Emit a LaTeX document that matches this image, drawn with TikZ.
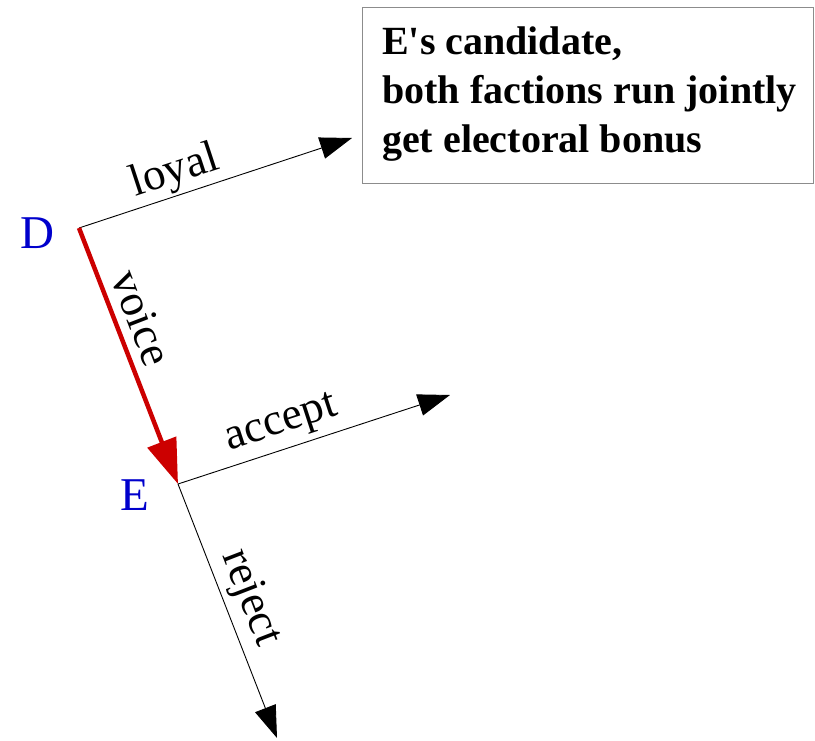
\documentclass[tikz,border=0pt]{standalone}
\usepackage{fontspec}
\setmainfont{Liberation Serif}
\usetikzlibrary{arrows.meta}
\definecolor{redarrow}{HTML}{CC0000}
\definecolor{bluelbl}{HTML}{0000CC}
\definecolor{boxgray}{HTML}{8C8C8C}
\begin{document}
\begin{tikzpicture}[x=1pt,y=-1pt,
  move/.style={draw=black, line width=0.9pt, -{Triangle[length=32pt,width=22pt]}},
  redmove/.style={draw=redarrow, line width=4.5pt, -{Triangle[length=45pt,width=30pt]}},
  edgelbl/.style={font=\fontsize{45}{50}\selectfont, inner sep=0pt},
  playerlbl/.style={font=\fontsize{47}{50}\selectfont, text=bluelbl, inner sep=0pt, anchor=base},
  infobox/.style={draw=boxgray, line width=1pt, anchor=north west, minimum width=451pt, minimum height=176pt, inner sep=0pt},
  boxtext/.style={font=\fontsize{40}{49}\selectfont\bfseries, align=left, inner sep=0pt, anchor=base west}]
\useasboundingbox (0,0) rectangle (815,741);
\coordinate (D) at (79,228);
\coordinate (E) at (178,484);
\coordinate (loyalend) at (352,138);
\coordinate (acceptend) at (450,395);
\coordinate (rejectend) at (277,738);
\node[infobox] (box) at (362,7) {};
\node[boxtext] (boxtxt) at (382,153) {E\textquotesingle s candidate,\\both factions run jointly\\get electoral bonus};
\draw[move] (D) -- (loyalend);
\draw[move] (E) -- (acceptend);
\draw[move] (E) -- (rejectend);
\draw[redmove] (D) -- (E);
\node[playerlbl] (Dlbl) at (37,248) {D};
\node[playerlbl] (Elbl) at (134.5,510) {E};
\node[edgelbl, rotate=18.2] (loyallbl) at (175,172) {loyal};
\node[edgelbl, rotate=18.1] (acceptlbl) at (282,425) {accept};
\node[edgelbl, rotate=-68.9] (voicelbl) at (142,318) {voice};
\node[edgelbl, rotate=-68.9] (rejectlbl) at (250,598) {reject};
\end{tikzpicture}
\end{document}
